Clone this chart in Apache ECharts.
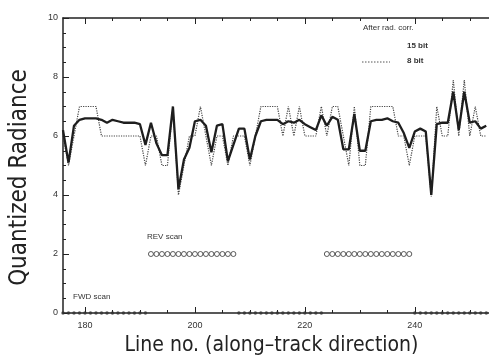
<!DOCTYPE html>
<html><head><meta charset="utf-8">
<script src="https://cdn.jsdelivr.net/npm/echarts@6/dist/echarts.min.js"></script>
<style>html,body{margin:0;padding:0;background:#fff}#c{width:489px;height:360px}</style>
</head><body><div id="c"></div>
<script>
// Line numbers (along-track)
const lines = [176,177,178,179,180,181,182,183,184,185,186,187,188,189,190,191,192,193,194,195,
  196,197,198,199,200,201,202,203,204,205,206,207,208,209,210,211,212,213,214,215,
  216,217,218,219,220,221,222,223,224,225,226,227,228,229,230,231,232,233,234,235,
  236,237,238,239,240,241,242,243,244,245,246,247,248,249,250,251,252,253];
// After rad. corr., 15 bit
const bit15 = [6.2,5.1,6.35,6.55,6.6,6.6,6.6,6.55,6.45,6.55,6.5,6.45,6.45,6.45,6.4,5.7,6.45,5.75,5.35,5.35,
  7.0,4.2,5.2,5.6,6.5,6.55,6.35,5.45,6.35,6.4,5.15,5.7,6.25,6.25,5.2,6.0,6.5,6.55,6.55,6.55,
  6.4,6.5,6.45,6.55,6.4,6.3,6.2,6.7,6.35,6.65,6.55,5.55,5.55,6.75,5.5,5.5,6.5,6.55,6.55,6.6,
  6.5,6.45,6.1,5.6,6.15,6.25,6.15,4.0,6.4,6.45,6.45,7.5,6.2,7.5,6.45,6.5,6.25,6.35];
// After rad. corr., 8 bit
const bit8 = [6,5,6,7,7,7,7,6,6,6,6,6,6,6,6,5,6,6,5,5,
  7,4,5,6,6,7,6,5,6,6,5,6,6,6,5,6,7,7,7,7,
  6,7,6,7,6,6,6,7,6,7,7,6,5,7,5,5,7,7,7,7,
  7,6,6,5,6,6,6,3.95,7,6,6,7.9,6,7.9,6,7,6,6];
// REV scan lines (plotted at 2)
const revLines = [192,193,194,195,196,197,198,199,200,201,202,203,204,205,206,207,
  224,225,226,227,228,229,230,231,232,233,234,235,236,237,238,239];
const revLevel = 2;
// FWD scan lines (plotted at 0)
const fwdLines = [176,177,178,179,180,181,182,183,184,185,186,187,188,189,190,191,
  208,209,210,211,212,213,214,215,216,217,218,219,220,221,222,223,
  240,241,242,243,244,245,246,247,248,249,250,251,252,253];
const fwdLevel = 0;
const xLabelValues = [180,200,220,240];
const xTickValues = [180,185,190,195,200,205,210,215,220,225,230,235,240,245,250];

const ink = '#222';
const font = 'Liberation Sans, Arial, sans-serif';
const titleFont = '"Liberation Sans Narrow", "DejaVu Sans Condensed", "Liberation Sans", sans-serif';
const xMin = 176, xMax = 253.5;

function baseX(extra){
  return Object.assign({
    type:'value', min:xMin, max:xMax, splitLine:{show:false},
    axisLine:{show:false}, axisLabel:{show:false}, axisTick:{show:false}
  }, extra);
}

const chart = echarts.init(document.getElementById('c'), null, {renderer:'canvas'});
chart.setOption({
  backgroundColor:'#fff',
  animation:false,
  grid:{left:63, right:0, top:18, bottom:47, containLabel:false, outerBoundsMode:'none'},
  xAxis:[
    baseX({
      position:'bottom',
      name:'Line no. (along\u2013track direction)', nameLocation:'middle', nameGap:18,
      nameTextStyle:{fontFamily:titleFont, fontSize:21, color:ink, padding:[0,9,0,0]},
      axisLine:{show:true, onZero:false, lineStyle:{color:ink, width:1.5}},
      axisTick:{show:true, inside:true, length:3, customValues:xTickValues, lineStyle:{color:ink}},
      axisLabel:{show:true, customValues:xLabelValues, margin:8, fontFamily:font, fontSize:9, color:'#333'}
    }),
    baseX({
      position:'bottom',
      axisTick:{show:true, inside:true, length:6, customValues:xLabelValues, lineStyle:{color:ink}}
    }),
    baseX({
      position:'top',
      axisLine:{show:true, onZero:false, lineStyle:{color:ink, width:1.5}},
      axisTick:{show:true, inside:true, length:3, customValues:xTickValues, lineStyle:{color:ink}}
    }),
    baseX({
      position:'top',
      axisTick:{show:true, inside:true, length:6, customValues:xLabelValues, lineStyle:{color:ink}}
    })
  ],
  yAxis:{
    type:'value', min:0, max:10, interval:2,
    name:'Quantized Radiance', nameLocation:'middle', nameGap:31, nameRotate:90,
    nameTextStyle:{fontFamily:titleFont, fontSize:24, color:ink, padding:[0,24,0,0]},
    axisLine:{show:true, onZero:false, lineStyle:{color:ink, width:1.5}},
    axisTick:{show:true, inside:true, length:6, lineStyle:{color:ink}},
    minorTick:{show:true, splitNumber:4, length:3, lineStyle:{color:ink}},
    axisLabel:{margin:5, fontFamily:font, fontSize:9, color:'#333'},
    splitLine:{show:false}
  },
  series:[
    {
      name:'8 bit', type:'line', xAxisIndex:0, symbol:'none',
      data: lines.map((l,i)=>[l, bit8[i]]),
      lineStyle:{color:'#444', width:1.2, type:'dotted'}, z:2
    },
    {
      name:'15 bit', type:'line', xAxisIndex:0, symbol:'none',
      data: lines.map((l,i)=>[l, bit15[i]]),
      lineStyle:{color:'#1e1e1e', width:2.3}, z:3
    },
    {
      name:'REV scan', type:'scatter', xAxisIndex:0, symbol:'circle', symbolSize:5,
      data: revLines.map(l=>[l, revLevel]),
      itemStyle:{color:'#fff', borderColor:'#333', borderWidth:1}
    },
    {
      name:'FWD scan', type:'scatter', xAxisIndex:0, symbol:'circle', symbolSize:3.5,
      data: fwdLines.map(l=>[l, fwdLevel]),
      itemStyle:{color:'#333'}, clip:false, z:5
    }
  ],
  graphic:[
    {type:'text', left:363, top:24, style:{text:'After rad. corr.', font:'8px '+font, fill:'#333'}},
    {type:'text', left:407, top:42, style:{text:'15 bit', font:'bold 8px '+font, fill:'#333'}},
    {type:'text', left:407, top:57, style:{text:'8 bit', font:'bold 8px '+font, fill:'#333'}},
    {type:'line', shape:{x1:362, y1:62, x2:390, y2:62}, style:{stroke:'#555', lineWidth:1, lineDash:[1.5,1.5]}},
    {type:'text', left:147, top:233, style:{text:'REV scan', font:'8px '+font, fill:'#333'}},
    {type:'text', left:73, top:293, style:{text:'FWD scan', font:'8px '+font, fill:'#333'}}
  ]
});
</script>
</body></html>
